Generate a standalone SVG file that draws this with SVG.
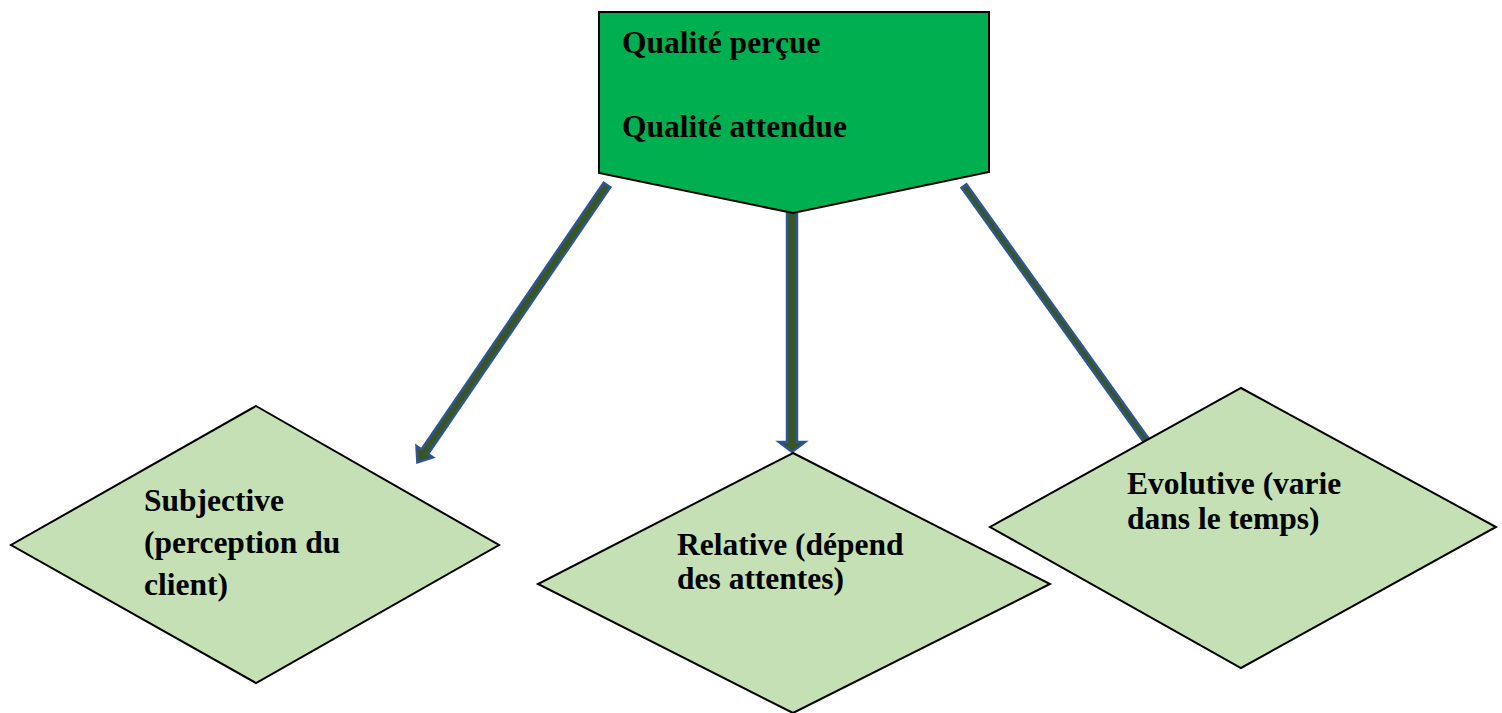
<svg xmlns="http://www.w3.org/2000/svg" width="1502" height="713" viewBox="0 0 1502 713">
  <style>
    .lbl { font-family: 'Liberation Serif', Tinos, 'Times New Roman', 'DejaVu Serif', serif; font-weight: 700; font-size: 31.5px; fill: #000; }
    .top { fill: #00B050; stroke: #000; stroke-width: 2; }
    .dia { fill: #C5E0B4; stroke: #000; stroke-width: 2; }
    .arr { fill: #375623; stroke: #2F5597; stroke-width: 2.5; stroke-linejoin: miter; }
  </style>
  <rect width="1502" height="713" fill="#fff"/>

  <!-- connectors: block arrows drawn along local x-axis, then rotated into place -->
  <g id="connectors">
    <!-- to Subjective -->
    <g transform="translate(607,185) rotate(124.35)">
      <polygon class="arr" points="0,-4 323,-4 323,-10 336,0 323,10 323,4 0,4"/>
    </g>
    <!-- to Relative -->
    <polygon class="arr" points="787,213 797,213 797,442 805,442 792,452 779,442 787,442"/>
    <!-- to Evolutive (passes under the diamond) -->
    <g transform="translate(964,186) rotate(54.38)">
      <polygon class="arr" stroke-width="2" points="0,-3 330,-3 330,3 0,3"/>
    </g>
  </g>

  <g id="node-qualite">
    <polygon class="top" points="599,12 989,12 989,172 793,213 599,173"/>
    <text class="lbl" x="622" y="53" font-family="Liberation Serif, serif">Qualité perçue</text>
    <text class="lbl" x="622" y="137" font-family="Liberation Serif, serif">Qualité attendue</text>
  </g>

  <g id="node-subjective">
    <polygon class="dia" points="256,406 499,545 256,683 11,545"/>
    <text class="lbl" x="144" y="511">Subjective</text>
    <text class="lbl" x="144" y="553">(perception du</text>
    <text class="lbl" x="144" y="595">client)</text>
  </g>

  <g id="node-relative">
    <polygon class="dia" points="793,453 1050,584 793,713 538,584"/>
    <text class="lbl" x="677" y="555">Relative (dépend</text>
    <text class="lbl" x="677" y="589">des attentes)</text>
  </g>

  <g id="node-evolutive">
    <polygon class="dia" points="1241,388 1496,527 1241,668 990,527"/>
    <text class="lbl" x="1127" y="494">Evolutive (varie</text>
    <text class="lbl" x="1127" y="529">dans le temps)</text>
  </g>
</svg>
